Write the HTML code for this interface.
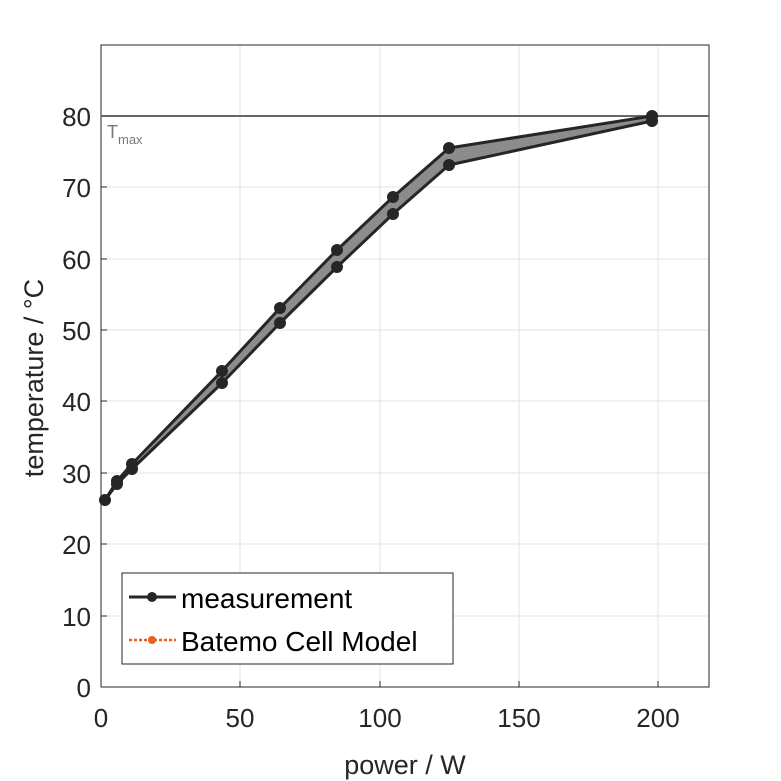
<!DOCTYPE html>
<html><head><style>body{margin:0;background:#fff}svg{display:block}text{font-family:"Liberation Sans",sans-serif}</style></head>
<body>
<svg width="781" height="781" xmlns="http://www.w3.org/2000/svg">
<rect width="781" height="781" fill="#fff"/>
<g stroke="#e3e3e3" stroke-width="1">
<line x1="240" y1="45" x2="240" y2="687"/><line x1="380" y1="45" x2="380" y2="687"/><line x1="519" y1="45" x2="519" y2="687"/><line x1="658" y1="45" x2="658" y2="687"/>
<line x1="101" y1="616" x2="709" y2="616"/><line x1="101" y1="544" x2="709" y2="544"/><line x1="101" y1="473" x2="709" y2="473"/><line x1="101" y1="401" x2="709" y2="401"/><line x1="101" y1="330" x2="709" y2="330"/><line x1="101" y1="259" x2="709" y2="259"/><line x1="101" y1="187" x2="709" y2="187"/>
</g>
<rect x="101" y="45" width="608" height="642" fill="none" stroke="#262626" stroke-width="1"/>
<g stroke="#262626">
<line x1="240" y1="687" x2="240" y2="681"/><line x1="380" y1="687" x2="380" y2="681"/><line x1="519" y1="687" x2="519" y2="681"/><line x1="658" y1="687" x2="658" y2="681"/>
<line x1="101" y1="616" x2="107" y2="616"/><line x1="101" y1="544" x2="107" y2="544"/><line x1="101" y1="473" x2="107" y2="473"/><line x1="101" y1="401" x2="107" y2="401"/><line x1="101" y1="330" x2="107" y2="330"/><line x1="101" y1="259" x2="107" y2="259"/><line x1="101" y1="187" x2="107" y2="187"/><line x1="101" y1="116" x2="107" y2="116"/>
</g>
<line x1="101" y1="116" x2="709" y2="116" stroke="#666" stroke-width="2"/>
<text x="107" y="138" font-size="18" fill="#777">T<tspan font-size="13" dy="6">max</tspan></text>
<polygon points="105,500 117,481 132,464 222,371 280,308 337,250 393,197 449,148 652,116 652,121 449,165 393,214 337,267 280,323 222,383 132,469 117,484" fill="#8c8c8c"/>
<g fill="none" stroke="#262626" stroke-width="3" stroke-linejoin="round">
<polyline points="105,500 117,481 132,464 222,371 280,308 337,250 393,197 449,148 652,116"/>
<polyline points="105,500 117,484 132,469 222,383 280,323 337,267 393,214 449,165 652,121"/>
</g>
<g fill="#262626">
<circle cx="105" cy="500" r="6"/>
<circle cx="117" cy="481" r="6"/><circle cx="117" cy="484" r="6"/>
<circle cx="132" cy="464" r="6"/><circle cx="132" cy="469" r="6"/>
<circle cx="222" cy="371" r="6"/><circle cx="222" cy="383" r="6"/>
<circle cx="280" cy="308" r="6"/><circle cx="280" cy="323" r="6"/>
<circle cx="337" cy="250" r="6"/><circle cx="337" cy="267" r="6"/>
<circle cx="393" cy="197" r="6"/><circle cx="393" cy="214" r="6"/>
<circle cx="449" cy="148" r="6"/><circle cx="449" cy="165" r="6"/>
<circle cx="652" cy="116" r="6"/><circle cx="652" cy="121" r="6"/>
</g>
<g font-size="26" fill="#262626" text-anchor="middle">
<text x="101" y="727">0</text><text x="240" y="727">50</text><text x="380" y="727">100</text><text x="519" y="727">150</text><text x="658" y="727">200</text>
</g>
<g font-size="26" fill="#262626" text-anchor="end">
<text x="91" y="697">0</text><text x="91" y="626">10</text><text x="91" y="554">20</text><text x="91" y="483">30</text><text x="91" y="411">40</text><text x="91" y="340">50</text><text x="91" y="269">60</text><text x="91" y="197">70</text><text x="91" y="126">80</text>
</g>
<text x="405" y="774" font-size="27" fill="#262626" text-anchor="middle">power / W</text>
<text transform="translate(43,378) rotate(-90)" font-size="27" fill="#262626" text-anchor="middle">temperature / °C</text>
<rect x="122" y="573" width="331" height="91" fill="#fff" stroke="#262626" stroke-width="1"/>
<line x1="129" y1="597" x2="176" y2="597" stroke="#262626" stroke-width="3"/>
<circle cx="152" cy="597" r="5" fill="#262626"/>
<text x="181" y="608" font-size="28" fill="#000">measurement</text>
<line x1="129" y1="640" x2="176" y2="640" stroke="#e8601c" stroke-width="2.5" stroke-dasharray="3,2"/>
<circle cx="152" cy="640" r="4" fill="#e8601c"/>
<text x="181" y="651" font-size="28" fill="#000">Batemo Cell Model</text>
</svg>
</body></html>
